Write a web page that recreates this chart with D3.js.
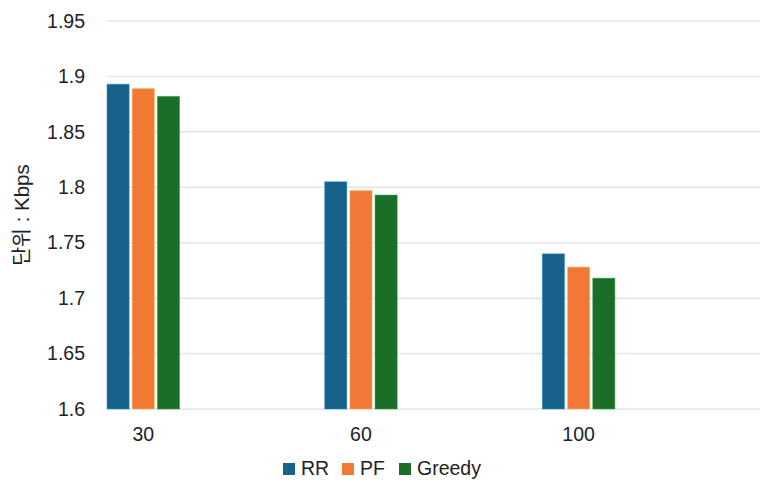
<!DOCTYPE html>
<html>
<head>
<meta charset="utf-8">
<script src="https://cdn.jsdelivr.net/npm/d3@7"></script>
<style>
  body { margin: 0; background: #fff; }
  text { font-family: "Liberation Sans", Arial, sans-serif; fill: #222; }
</style>
</head>
<body>
<svg id="chart"></svg>
<script>
const categories = ['30', '60', '100'];
const seriesNames = ['RR', 'PF', 'Greedy'];
const rrValues = [1.893, 1.805, 1.740];
const pfValues = [1.889, 1.797, 1.728];
const greedyValues = [1.882, 1.793, 1.718];
const yTicks = [1.6, 1.65, 1.7, 1.75, 1.8, 1.85, 1.9, 1.95];

const colors = ['#17628a', '#f27935', '#1b6e28'];
const values = [rrValues, pfValues, greedyValues];

const W = 773, H = 488;
const margin = { top: 21, right: 13, bottom: 79, left: 107 };

const svg = d3.select('#chart').attr('width', W).attr('height', H);

const x = d3.scaleBand()
    .domain(categories)
    .range([margin.left, W - margin.right])
    .padding(0);

// bars sit in the left third of each category band
const xs = d3.scaleBand()
    .domain(seriesNames)
    .range([0, x.bandwidth() / 3])
    .paddingInner(0.12);

const y = d3.scaleLinear()
    .domain([1.6, 1.95])
    .range([H - margin.bottom, margin.top]);

// gridlines
svg.append('g')
    .selectAll('line')
    .data(yTicks)
    .enter().append('line')
    .attr('x1', margin.left)
    .attr('x2', W - margin.right)
    .attr('y1', d => y(d))
    .attr('y2', d => y(d))
    .attr('stroke', '#e5e5e5')
    .attr('stroke-width', 1.5);

// y axis labels
const yAxis = d3.axisLeft(y)
    .tickValues(yTicks)
    .tickSize(0)
    .tickPadding(0)
    .tickFormat(d => d3.format('')(+d.toFixed(2)));

svg.append('g')
    .attr('transform', `translate(85,0)`)
    .call(yAxis)
    .call(g => g.select('.domain').remove())
    .selectAll('text')
    .style('font-size', '19.5px')
    .style('font-family', '"Liberation Sans", Arial, sans-serif')
    .attr('fill', '#222');

// bars
seriesNames.forEach((s, i) => {
    svg.append('g')
        .selectAll('rect')
        .data(categories.map((c, j) => ({ c, v: values[i][j] })))
        .enter().append('rect')
        .attr('x', d => x(d.c) + xs(s))
        .attr('width', xs.bandwidth())
        .attr('y', d => y(d.v))
        .attr('height', d => y(1.6) - y(d.v))
        .attr('fill', colors[i])
        .attr('stroke', d3.color(colors[i]).brighter(1.2))
        .attr('stroke-opacity', 0.5)
        .attr('stroke-width', 1);
});

// x labels centred under each group of bars
const xAxis = d3.axisBottom(x).tickSize(0).tickPadding(0);
svg.append('g')
    .attr('transform', `translate(0,${y(1.6) + 18})`)
    .call(xAxis)
    .call(g => g.select('.domain').remove())
    .selectAll('.tick')
    .attr('transform', d => `translate(${x(d) + x.bandwidth() / 6},0)`)
    .select('text')
    .style('font-size', '19.5px')
    .style('font-family', '"Liberation Sans", Arial, sans-serif')
    .attr('fill', '#222');

// y title
svg.append('text')
    .attr('transform', `translate(29,${(margin.top + H - margin.bottom) / 2}) rotate(-90)`)
    .attr('text-anchor', 'middle')
    .style('font-size', '20.5px')
    .style('font-family', '"Liberation Sans", "Noto Sans CJK KR", sans-serif')
    .text('단위 : Kbps');

// legend
const legendX = [283, 342, 399];
const legend = svg.append('g').attr('transform', 'translate(0,463)');
seriesNames.forEach((s, i) => {
    legend.append('rect')
        .attr('x', legendX[i])
        .attr('y', 0)
        .attr('width', 12)
        .attr('height', 12)
        .attr('fill', colors[i]);
    legend.append('text')
        .attr('x', legendX[i] + 18)
        .attr('y', 11.5)
        .style('font-size', '19.5px')
        .text(s);
});
</script>
</body>
</html>
